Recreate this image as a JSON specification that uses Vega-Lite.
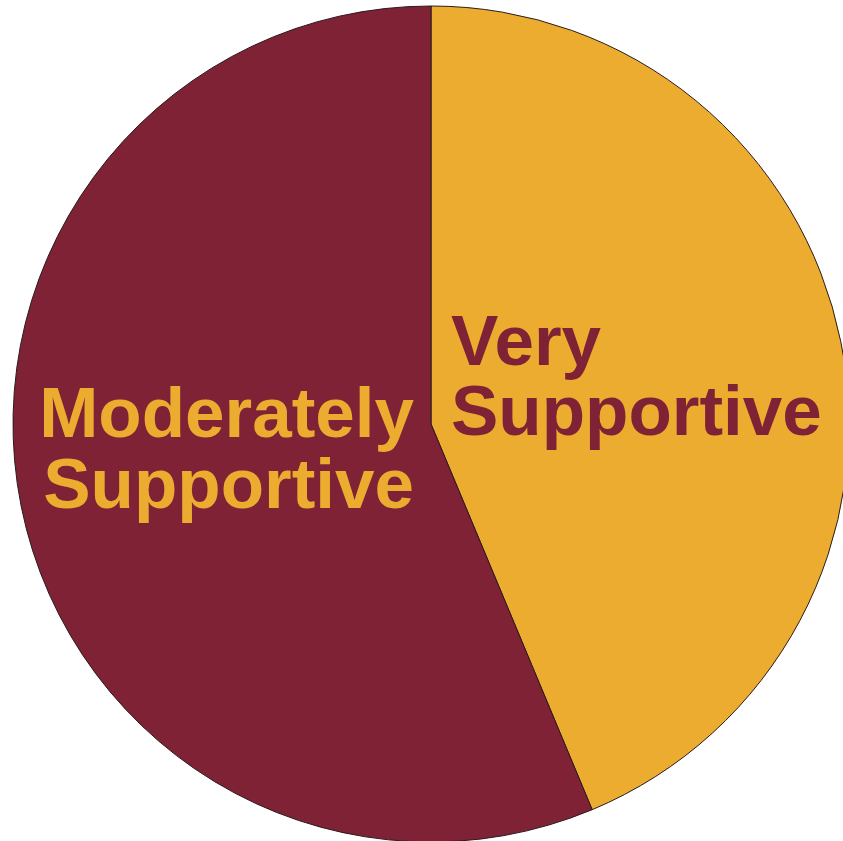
{
  "$schema": "https://vega.github.io/schema/vega-lite/v6.json",
  "width": 836,
  "height": 836,
  "autosize": {"type": "none"},
  "padding": {"left": 13, "top": 6, "right": 0, "bottom": 0},
  "background": "white",
  "view": {"stroke": null},
  "data": {
    "values": [
      {"category": "Very Supportive", "share": 43.7, "rank": 1},
      {"category": "Moderately Supportive", "share": 56.3, "rank": 2}
    ]
  },
  "layer": [
    {
      "mark": {"type": "arc", "stroke": "#2b1b1b", "strokeWidth": 1},
      "encoding": {
        "theta": {"field": "share", "type": "quantitative", "stack": true},
        "order": {"field": "rank", "type": "quantitative"},
        "color": {
          "field": "category",
          "type": "nominal",
          "scale": {"domain": ["Very Supportive", "Moderately Supportive"], "range": ["#ebac30", "#7f2236"]},
          "legend": null
        }
      }
    },
    {
      "transform": [{"filter": "datum.category == 'Very Supportive'"}],
      "mark": {"type": "text", "font": "Liberation Sans", "fontWeight": "bold", "fontSize": 71, "lineHeight": 70, "align": "left", "baseline": "alphabetic", "lineBreak": "\n", "dx": 20, "dy": -59, "color": "#7f2236"},
      "encoding": {
        "text": {"value": "Very\nSupportive"}
      }
    },
    {
      "transform": [{"filter": "datum.category == 'Moderately Supportive'"}],
      "mark": {"type": "text", "font": "Liberation Sans", "fontWeight": "bold", "fontSize": 71, "lineHeight": 71, "align": "right", "baseline": "alphabetic", "lineBreak": "\n", "dx": -17, "dy": 13, "color": "#ebac30"},
      "encoding": {
        "text": {"value": "Moderately\nSupportive"}
      }
    }
  ]
}
